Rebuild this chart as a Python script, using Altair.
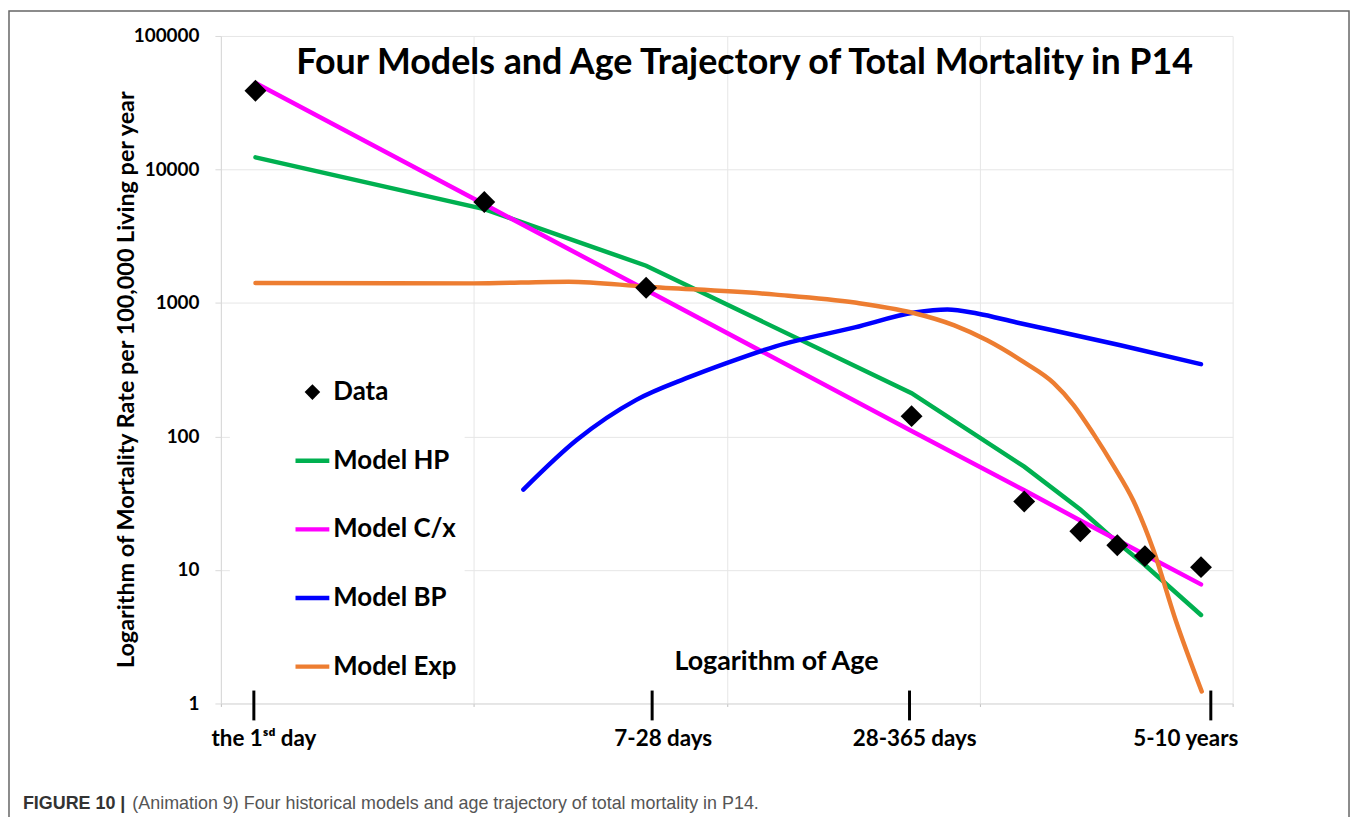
import altair as alt
import pandas as pd

# ---------------- values ----------------
# age in years (log axis), mortality rate per 100,000 living per year (log axis)
data_age = [0.00137, 0.011, 0.048, 0.538, 1.5, 2.5, 3.5, 4.5, 7.5]
data_rate = [38900, 5700, 1300, 142, 32.6, 19.5, 15.3, 12.7, 10.5]

hp_age = [0.00137, 0.011, 0.048, 0.538, 1.5, 2.5, 3.5, 4.5, 7.5]
hp_rate = [12330, 5050, 1900, 211, 59.4, 28.4, 16.1, 10.9, 4.6]

cx_age = [0.00137, 0.011, 0.048, 0.538, 1.5, 2.5, 3.5, 4.5, 7.5]
cx_rate = [44400, 5480, 1250, 110, 39.5, 23.5, 16.8, 13.0, 7.8]

bp_age = [0.0157, 0.0255, 0.0439, 0.0709, 0.0991, 0.156, 0.321, 0.553, 0.745,
          0.978, 1.40, 1.96, 3.60, 7.5]
bp_rate = [40.0, 94, 188, 278, 353, 473, 656, 848, 893, 834, 714, 622, 482, 348]

exp_age = [0.00137, 0.00995, 0.0237, 0.048, 0.156, 0.321, 0.538, 0.794, 1.07,
           1.496, 1.962, 2.351, 2.818, 3.378, 4.047, 4.85, 5.97, 7.55]
exp_rate = [1413, 1402, 1444, 1324, 1155, 1007, 848, 679, 525,
            360, 251, 172, 104.6, 60.4, 33.1, 14.3, 4.15, 1.23]

series_order = ["Data", "Model HP", "Model C/x", "Model BP", "Model Exp"]
series_colors = ["#000000", "#00B050", "#FF00FF", "#0000FF", "#ED7D31"]

x_grid = [0.001, 0.01, 0.1, 1, 10]
y_ticks = [1, 10, 100, 1000, 10000, 100000]

tick_age = [0.00135, 0.0507, 0.528, 8.2]
label_age = [0.00148, 0.0561, 0.553, 6.53]
x_labels = ["the 1\u02e2\u1d48 day", "7-28 days", "28-365 days", "5-10 years"]

chart_title = "Four Models and Age Trajectory of Total Mortality in P14"
y_title = "Logarithm  of Mortality  Rate per 100,000 Living per year"
x_title = "Logarithm of Age"
caption_bold = ["FIGURE 10 |"]
caption_text = ["(Animation 9) Four historical models and age trajectory of total mortality in P14."]

# ---------------- tables ----------------
straight = pd.concat([
    pd.DataFrame({"series": "Model HP", "age": hp_age, "rate": hp_rate}),
    pd.DataFrame({"series": "Model C/x", "age": cx_age, "rate": cx_rate}),
], ignore_index=True)
smooth = pd.concat([
    pd.DataFrame({"series": "Model BP", "age": bp_age, "rate": bp_rate}),
    pd.DataFrame({"series": "Model Exp", "age": exp_age, "rate": exp_rate}),
], ignore_index=True)
points = pd.DataFrame({"series": "Data", "age": data_age, "rate": data_rate})
ticks_df = pd.DataFrame({"age": tick_age})
labels_df = pd.DataFrame({"age": label_age, "label": x_labels})

# ---------------- styling ----------------
FONT = "Lato"
W, H = 1017, 671
DIAMOND = "M0,-0.46L0.46,0L0,0.46L-0.46,0Z"
BAR = "M-1,-0.13L1,-0.13L1,0.13L-1,0.13Z"
series_shapes = [DIAMOND, BAR, BAR, BAR, BAR]

x_scale = alt.Scale(type="log", domain=[0.001, 10], nice=False)
y_scale = alt.Scale(type="log", domain=[1, 100000], nice=False)
color_scale = alt.Scale(domain=series_order, range=series_colors)
shape_scale = alt.Scale(domain=series_order, range=series_shapes)
stroke_scale = alt.Scale(domain=series_order[1:], range=series_colors[1:])

x_axis = alt.Axis(values=x_grid, labels=False, tickSize=3, tickColor="#bfbfbf",
                  domainColor="#d9d9d9", gridColor="#e6e6e6",
                  title=x_title, titleFont=FONT, titleFontSize=27, titleFontWeight="bold",
                  titleColor="black", titleX=558, titleY=-42, titleAlign="center",
                  titleBaseline="middle", titleAngle=0)
y_axis = alt.Axis(values=y_ticks, format="d", labelFont=FONT, labelFontSize=19,
                  labelFontWeight="bold", labelColor="black", labelPadding=16,
                  tickSize=6, tickColor="#d9d9d9", domainColor="#d9d9d9", gridColor="#e6e6e6",
                  title=y_title, titleFont=FONT, titleFontSize=23.5, titleFontWeight="bold",
                  titleColor="black", titleX=-95, titleY=345, titleAngle=270,
                  titleAlign="center", titleBaseline="middle")

legend = alt.Legend(title="\u2003", titleOrient="right", titleFontSize=62, titlePadding=0,
                    orient="none", legendX=9, legendY=333, padding=8,
                    fillColor="white", symbolSize=1156, symbolOffset=58, labelOffset=4,
                    symbolStrokeWidth=0, labelFont=FONT, labelFontSize=26,
                    labelFontWeight="bold", labelColor="black", rowPadding=39,
                    labelLimit=400)

base_x = alt.X("age:Q", scale=x_scale, axis=x_axis)
base_y = alt.Y("rate:Q", scale=y_scale, axis=y_axis)
stroke_enc = alt.Stroke("series:N", scale=stroke_scale, legend=None)

lines_straight = alt.Chart(straight).mark_line(strokeWidth=4.5, strokeCap="round").encode(
    x=base_x, y=base_y, stroke=stroke_enc)
lines_smooth = alt.Chart(smooth).mark_line(strokeWidth=4.5, interpolate="monotone",
                                           strokeCap="round").encode(
    x=alt.X("age:Q", scale=x_scale), y=alt.Y("rate:Q", scale=y_scale), stroke=stroke_enc)

pts = alt.Chart(points).mark_point(filled=True, size=2290, opacity=1).encode(
    x=alt.X("age:Q", scale=x_scale),
    y=alt.Y("rate:Q", scale=y_scale),
    color=alt.Color("series:N", scale=color_scale, legend=legend),
    shape=alt.Shape("series:N", scale=shape_scale, legend=legend),
)

big_ticks = alt.Chart(ticks_df).mark_rule(color="black", strokeWidth=3).encode(
    x=alt.X("age:Q", scale=x_scale), y=alt.value(658), y2=alt.value(688))

tick_labels = alt.Chart(labels_df).mark_text(font=FONT, fontSize=22.5, fontWeight="bold",
                                             baseline="alphabetic", align="center",
                                             color="black").encode(
    x=alt.X("age:Q", scale=x_scale), y=alt.value(714), text="label:N")

cap1 = alt.Chart(pd.DataFrame({"t": caption_bold})).mark_text(
    align="left", baseline="middle", font="Liberation Sans", fontSize=18,
    fontWeight="bold", color="#333333").encode(x=alt.value(-199), y=alt.value(772), text="t:N")
cap2 = alt.Chart(pd.DataFrame({"t": caption_text})).mark_text(
    align="left", baseline="middle", font="Liberation Sans", fontSize=18,
    color="#555555").encode(x=alt.value(-89), y=alt.value(772), text="t:N")

frame = alt.Chart(pd.DataFrame({"k": [0]})).mark_rect(filled=False, stroke="#666666", strokeWidth=1.5).encode(
    x=alt.value(-213), x2=alt.value(1134), y=alt.value(-25), y2=alt.value(800))

chart = alt.layer(frame, lines_straight, lines_smooth, pts, big_ticks, tick_labels, cap1, cap2).properties(
    width=W, height=H,
    autosize=alt.AutoSizeParams(type="none"),
    padding={"left": 214, "top": 26, "right": 118, "bottom": 112},
    title=alt.TitleParams(chart_title, font=FONT, fontSize=36, fontWeight="bold", color="black",
                          anchor="middle", orient="top", offset=-100, baseline="alphabetic", dx=18),
    background="white",
).configure_view(strokeWidth=0)

chart.save("out.html", embed_options={"renderer": "svg", "actions": False})
